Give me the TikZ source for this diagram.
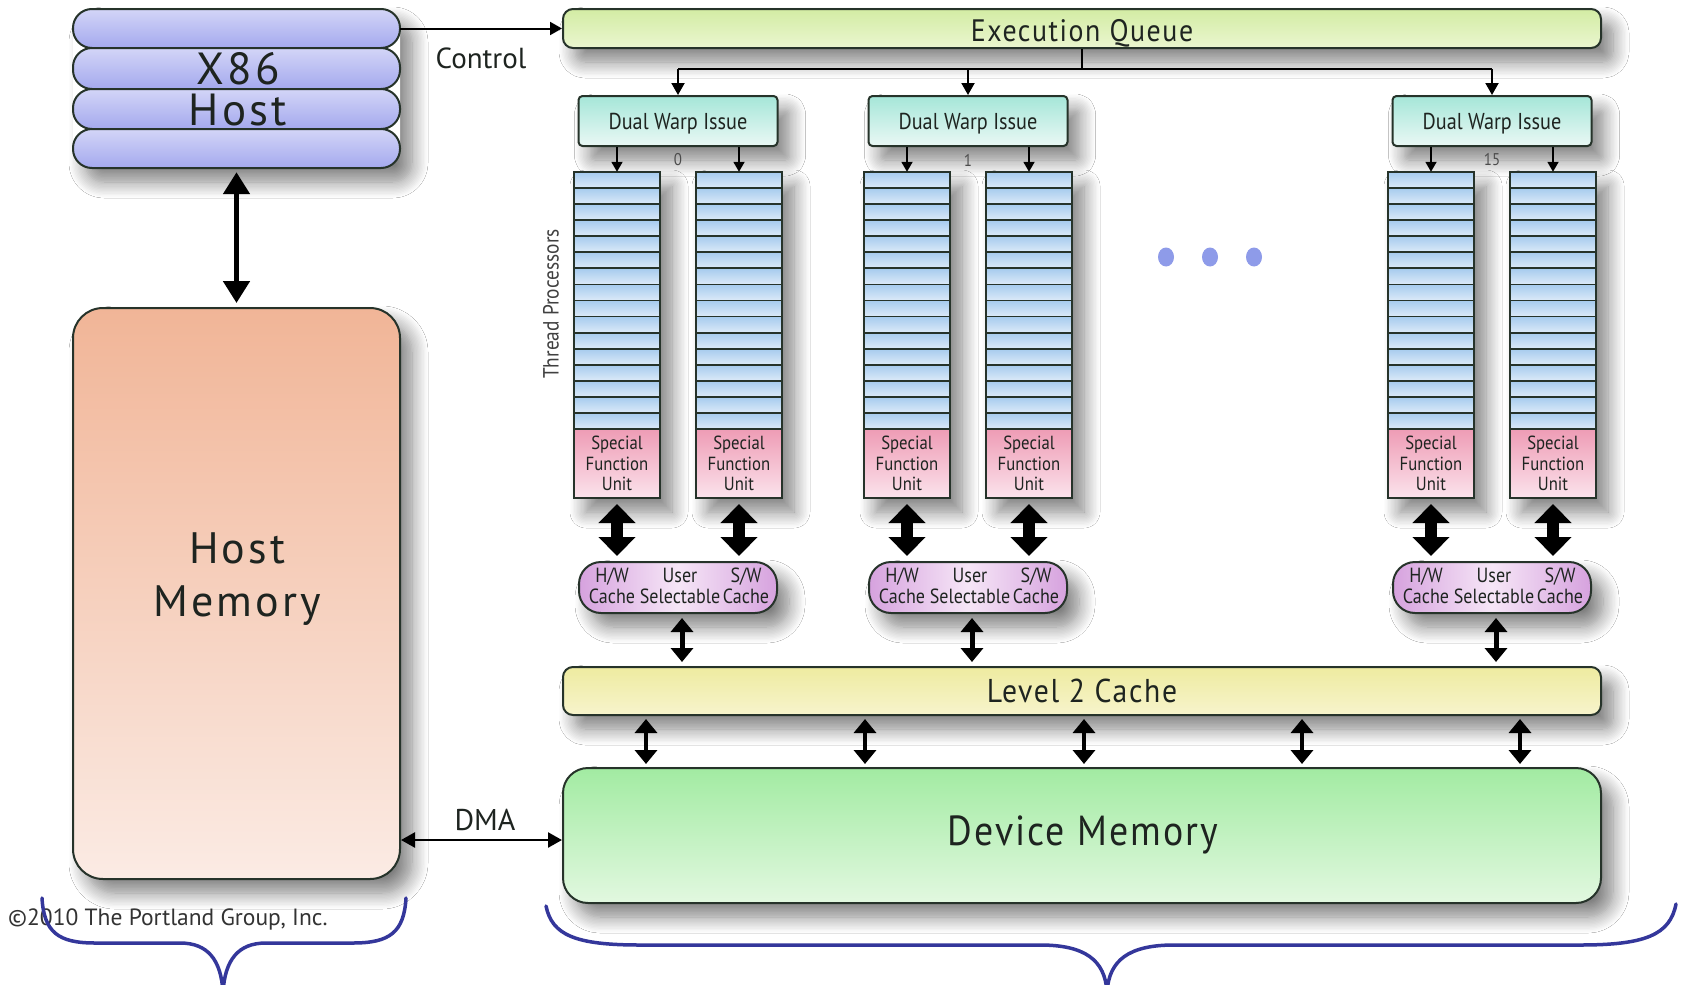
\documentclass[tikz,border=0pt]{standalone}
\usepackage{fontspec}
\setmainfont{PT Sans}
\newfontfamily\condf[FakeStretch=0.88]{PT Sans}
\newfontfamily\widef[LetterSpace=7]{PT Sans}
\newfontfamily\mwidef[FakeStretch=0.9,LetterSpace=5]{PT Sans}
\usetikzlibrary{shadows.blur,arrows.meta,calc,shapes.geometric}

\definecolor{bord}{HTML}{26332A}
\definecolor{pillT}{HTML}{D3D5F7}
\definecolor{pillB}{HTML}{A4A9EE}
\definecolor{eqT}{HTML}{D3ECA4}
\definecolor{eqB}{HTML}{EAF6CF}
\definecolor{dwiT}{HTML}{A5E6D8}
\definecolor{dwiB}{HTML}{EAF8F5}
\definecolor{cellT}{HTML}{A6CBEE}
\definecolor{cellB}{HTML}{DCEAF8}
\definecolor{sfuT}{HTML}{EE9CB5}
\definecolor{sfuB}{HTML}{FBE3EC}
\definecolor{cacheE}{HTML}{D6A2DE}
\definecolor{cacheM}{HTML}{F6E6F7}
\definecolor{ltT}{HTML}{EEEBA0}
\definecolor{ltB}{HTML}{F7F4CC}
\definecolor{devT}{HTML}{A2EBA2}
\definecolor{devB}{HTML}{E2F8E0}
\definecolor{hmT}{HTML}{F1B597}
\definecolor{hmB}{HTML}{FBEBE4}
\definecolor{dotc}{HTML}{8E9BE9}
\definecolor{bracec}{HTML}{34379B}
\definecolor{txt}{HTML}{1E2420}

\begin{document}
\begin{tikzpicture}[x=1pt,y=-1pt,
  box/.style={draw=bord, line width=2pt, inner sep=0pt, text=txt},
  shad/.style={blur shadow={shadow xshift=12pt, shadow yshift=-14pt, shadow blur radius=16pt, shadow blur steps=12, shadow opacity=50}},
  pillst/.style={draw=bord, line width=2pt, rounded corners=19pt, top color=pillT, bottom color=pillB},
  cell/.style={draw=bord, line width=1.8pt, top color=cellT, bottom color=cellB},
  thinarr/.style={draw=black, line width=2pt, -{Triangle[length=12pt,width=13pt]}},
  smallarr/.style={draw=black, line width=1.8pt, -{Triangle[length=10pt,width=11pt]}},
  dmaarr/.style={draw=black, line width=2.5pt, {Triangle[length=14pt,width=15pt]}-{Triangle[length=14pt,width=15pt]}},
  fatarr/.style={draw=black, line width=12pt, {Triangle[length=19pt,width=36pt]}-{Triangle[length=19pt,width=36pt]}, shorten <=5pt, shorten >=5pt},
  medarr/.style={draw=black, line width=5pt, {Triangle[length=14pt,width=22pt]}-{Triangle[length=14pt,width=22pt]}, shorten <=4pt, shorten >=4pt},
  hostarr/.style={draw=black, line width=5pt, {Triangle[length=22pt,width=26pt]}-{Triangle[length=22pt,width=26pt]}, shorten <=4pt, shorten >=4pt},
  brace/.style={draw=bracec, line width=3.5pt, line cap=round},
  dot/.style={ellipse, fill=dotc, inner sep=0pt, minimum width=16pt, minimum height=19pt},
  lbl/.style={text=txt, inner sep=0pt}
]
\fill[white] (0,0) rectangle (1681,985);
\useasboundingbox (0,0) rectangle (1681,985);

% ---------- Host ----------
\node[shad, fill=white, rounded corners=19pt, minimum width=327pt, minimum height=159pt, inner sep=0pt] (host) at (236.5,88.5) {};
\foreach \ya/\yb in {9/48,48/89,89/129,129/168}
  \draw[pillst] (73,\ya) rectangle (400,\yb);
\node[lbl, font=\widef\fontsize{45}{46}\selectfont] (x86t) at (238,69) {X86};
\node[lbl, font=\widef\fontsize{45}{46}\selectfont] (hostt) at (238,110) {Host};

% ---------- Host memory ----------
\node[box, shad, top color=hmT, bottom color=hmB, rounded corners=30pt, minimum width=327pt, minimum height=571pt] (hm) at (236.5,593.5) {};
\node[lbl, align=center, font=\widef\fontsize{44}{53}\selectfont] (hmt) at (237,579) {Host\\Memory};

% ---------- Execution queue ----------
\node[box, shad, top color=eqT, bottom color=eqB, rounded corners=10pt, minimum width=1038pt, minimum height=39pt] (eq) at (1082,28.5) {};
\node[lbl, text depth=0pt, font=\mwidef\fontsize{31}{32}\selectfont] (eqt) at (1082,30) {Execution Queue};

% ---------- Level 2 cache & device memory ----------
\node[box, shad, top color=ltT, bottom color=ltB, rounded corners=10pt, minimum width=1038pt, minimum height=48pt, font=\mwidef\fontsize{33}{34}\selectfont] (l2) at (1082,691) {Level 2 Cache};
\node[box, shad, top color=devT, bottom color=devB, rounded corners=25pt, minimum width=1038pt, minimum height=135pt] (dev) at (1082,835.5) {};
\node[lbl, font=\mwidef\fontsize{42}{43}\selectfont] (devt) at (1083,835) {Device Memory};

% ---------- Control & tree ----------
\draw[thinarr] (eq.west -| host.east) -- (eq.west);
\node[lbl, font=\fontsize{29}{30}\selectfont] (ctl) at (481,58) {Control};
\coordinate (tj) at (1082,69);

% ---------- Streaming multiprocessors ----------
\foreach \cx/\n in {678/0, 968/1, 1492/15} {
  \node[box, shad, top color=dwiT, bottom color=dwiB, rounded corners=4pt, minimum width=199pt, minimum height=50pt] (dwi\n) at (\cx,121) {};
  \node[lbl, text depth=0pt, font=\condf\fontsize{23}{24}\selectfont] (dwit\n) at (\cx,121) {Dual Warp Issue};
  \node[lbl, text=black!70, font=\condf\fontsize{17}{18}\selectfont] (num\n) at (\cx,160) {\n};
  \node[box, shad, left color=cacheE, right color=cacheE, middle color=cacheM, rounded corners=22pt, minimum width=198pt, minimum height=51pt] (cache\n) at (\cx,587.5) {};
  \node[lbl, align=center, font=\condf\fontsize{20.5}{21.5}\selectfont] (hw\n) at (\cx-66,586) {H/W\\Cache};
  \node[lbl, align=center, font=\condf\fontsize{20.5}{21.5}\selectfont] (us\n) at (\cx+2,586) {User\\Selectable};
  \node[lbl, align=center, font=\condf\fontsize{20.5}{21.5}\selectfont] (sw\n) at (\cx+68,586) {S/W\\Cache};
  \foreach \s/\off in {a/-61, b/61} {
    \pgfmathsetmacro\colx{\cx+\off}
    \node[shad, fill=white, minimum width=86pt, minimum height=326pt, inner sep=0pt] (col\n\s) at (\colx,335) {};
    \foreach \k in {0,...,15}
      \draw[cell] (\colx-43,{172+\k*16.0625}) rectangle ++(86,16.0625);
    \node[box, top color=sfuT, bottom color=sfuB, minimum width=86pt, minimum height=69pt, align=center, font=\condf\fontsize{19}{20.5}\selectfont] (sfu\n\s) at (\colx,463.5) {Special\\Function\\Unit};
    \draw[smallarr] (dwi\n.south -| col\n\s.north) -- (col\n\s.north);
    \draw[fatarr] (sfu\n\s.south) -- (sfu\n\s.south |- cache\n.north);
  }
  \draw[thinarr] (dwi\n.north |- tj) -- (dwi\n.north);
  \coordinate (cl\n) at (\cx+4,640);
  \draw[medarr] (cl\n |- cache\n.south) -- (cl\n |- l2.north);
}
\draw[draw=black, line width=2pt] (eq.south) -- (tj);
\draw[draw=black, line width=2pt] (dwi0.north |- tj) -- (dwi15.north |- tj);

\node[lbl, rotate=90, text=black!75, font=\condf\fontsize{22}{23}\selectfont] (tp) at (551,304) {Thread Processors};

% ---------- dots ----------
\node[dot] (d1) at (1166,257) {};
\node[dot] (d2) at (1210,257) {};
\node[dot] (d3) at (1254,257) {};

% ---------- L2 <-> device ----------
\foreach \xx [count=\i] in {646,865,1084,1302,1520} {
  \coordinate (lt\i) at (\xx,741);
  \draw[medarr, line width=4pt, shorten <=3pt, shorten >=3pt] (lt\i |- l2.south) -- (lt\i |- dev.north);
}

% ---------- host links ----------
\draw[hostarr] (host.south) -- (hm.north);
\coordinate (dmay) at (480,840);
\draw[dmaarr] (hm.east |- dmay) -- (dev.west |- dmay);
\node[lbl, font=\fontsize{30}{31}\selectfont] (dmat) at (485,820) {DMA};

% ---------- copyright & braces ----------
\node[lbl, anchor=west, text=black!80, font=\fontsize{23.5}{24}\selectfont] (copy) at (8,919) {©2010 The Portland Group, Inc.};
\draw[brace] (42,898) .. controls (44,932) and (58,943) .. (95,943) -- (180,943) .. controls (208,943) and (221,960) .. (223,992);
\draw[brace] (406,898) .. controls (404,932) and (390,943) .. (353,943) -- (266,943) .. controls (238,943) and (225,960) .. (223,992);
\draw[brace] (546,906) .. controls (552,935) and (575,945) .. (640,945) -- (1040,945) .. controls (1085,945) and (1105,960) .. (1107,992);
\draw[brace] (1676,904) .. controls (1670,935) and (1645,945) .. (1580,945) -- (1174,945) .. controls (1129,945) and (1109,960) .. (1107,992);
\end{tikzpicture}
\end{document}
